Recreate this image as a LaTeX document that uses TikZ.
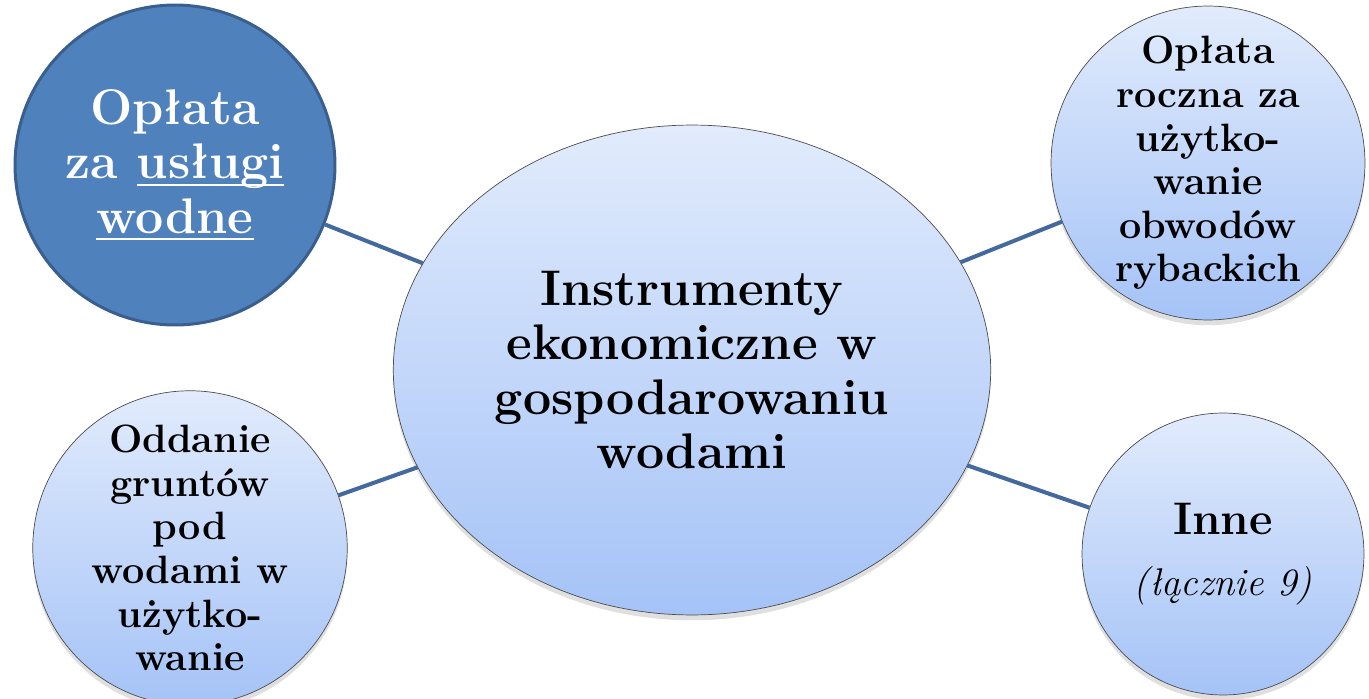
\documentclass[tikz,border=0pt]{standalone}
\usetikzlibrary{shapes.geometric,shadows}
\definecolor{darkfill}{HTML}{4F81BD}
\definecolor{darkedge}{HTML}{3A5F8E}
\definecolor{lighttop}{HTML}{E1EBFC}
\definecolor{lightbot}{HTML}{A5C3F7}
\definecolor{linkblue}{HTML}{44699C}
\newsavebox{\ulbox}
\newcommand{\ulword}[1]{\sbox{\ulbox}{#1}\rlap{\rule[-4pt]{\wd\ulbox}{1.3pt}}\usebox{\ulbox}}
\tikzset{
  >=latex,
}
\tikzstyle{bubble}=[circle,draw=gray!60!black,thin,top color=lighttop,bottom color=lightbot,
  align=center,inner sep=0pt,drop shadow={opacity=.25,shadow xshift=0pt,shadow yshift=-3pt}]
\tikzstyle{hub}=[ellipse,draw=gray!60!black,thin,top color=lighttop,bottom color=lightbot,
  align=center,inner sep=0pt,minimum width=11.95cm,minimum height=9.8cm,
  drop shadow={opacity=.25,shadow xshift=0pt,shadow yshift=-3pt}]
\tikzstyle{mainbubble}=[circle,draw=darkedge,line width=1.7pt,fill=darkfill,text=white,
  align=center,inner sep=0pt,minimum size=6.4cm]
\tikzstyle{link}=[linkblue,line width=2.3pt]
\tikzstyle{bigtext}=[font=\fontsize{28.5}{31}\selectfont\bfseries]
\tikzstyle{smalltext}=[font=\fontsize{22.5}{24.8}\selectfont\bfseries]

\begin{document}
\begin{tikzpicture}[x=0.02cm,y=-0.02cm]
  \useasboundingbox (0,0) rectangle (1369,699);
  \node[hub,bigtext] (hub) at (692,370)
    {Instrumenty\\ekonomiczne w\\gospodarowaniu\\wodami};
  \node[mainbubble,bigtext] (uslugi) at (175,165)
    {Opłata\\za \ulword{usługi}\\\ulword{wodne}};
  \node[bubble,smalltext,minimum size=6.2cm] (grunty) at (190,548)
    {Oddanie\\gruntów\\pod\\wodami w\\użytko-\\wanie};
  \node[bubble,smalltext,minimum size=6.28cm] (obwody) at (1208,163)
    {Opłata\\roczna za\\użytko-\\wanie\\obwodów\\rybackich};
  \node[bubble,minimum size=5.64cm] (inne) at (1223,554)
    {{\fontsize{26}{33}\selectfont\bfseries Inne}\\[17pt]
     {\fontsize{22}{24}\selectfont\itshape (łącznie 9)}};
  \draw[link] (uslugi) -- (hub);
  \draw[link] (grunty) -- (hub);
  \draw[link] (obwody) -- (hub);
  \draw[link] (inne) -- (hub);
\end{tikzpicture}
\end{document}
